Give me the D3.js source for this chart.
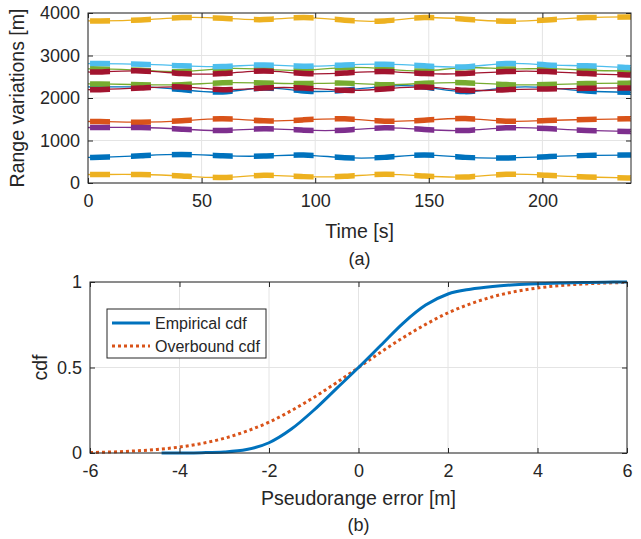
<!DOCTYPE html>
<html>
<head>
<meta charset="utf-8">
<script src="https://cdn.jsdelivr.net/npm/d3@7"></script>
<style>
body { margin: 0; background: #fff; }
svg text { font-family: "Liberation Sans", Arial, sans-serif; fill: #262626; }
</style>
</head>
<body>
<svg id="fig" width="641" height="539"></svg>
<script>

/////// Data for (a): range variations of each satellite ///////

// sample instants [s] (centres of the thick pieces, plus both ends of the record)
var times = [0, 5.3, 23.3, 41.3, 59.3, 77.4, 94.9, 113, 130.5, 148, 166, 184, 202, 219.5, 237.4, 239];
// half length of a thick piece [s]
var pieceHalf = 4.4;

var yellowTop = [3814, 3814, 3837, 3892, 3877, 3845, 3892, 3830, 3814, 3892, 3853, 3806, 3837, 3892, 3908, 3908];
var lightBlue = [2811, 2811, 2795, 2756, 2740, 2779, 2748, 2779, 2795, 2756, 2732, 2811, 2779, 2756, 2716, 2716];
var greenUp   = [2685, 2685, 2653, 2622, 2693, 2677, 2653, 2716, 2685, 2638, 2716, 2685, 2693, 2653, 2638, 2638];
var redUp     = [2614, 2614, 2638, 2575, 2575, 2638, 2575, 2590, 2622, 2575, 2575, 2622, 2622, 2575, 2543, 2543];
var greenLow  = [2330, 2330, 2313, 2313, 2360, 2353, 2340, 2350, 2313, 2345, 2360, 2315, 2315, 2340, 2350, 2350];
var blueMid   = [2260, 2260, 2260, 2197, 2142, 2236, 2165, 2181, 2275, 2260, 2150, 2244, 2244, 2165, 2134, 2134];
var redLow    = [2197, 2197, 2236, 2260, 2197, 2236, 2236, 2181, 2212, 2260, 2181, 2197, 2212, 2228, 2236, 2236];
var orangeS   = [1447, 1447, 1431, 1463, 1509, 1463, 1486, 1509, 1455, 1478, 1517, 1455, 1470, 1494, 1509, 1509];
var purpleS   = [1306, 1306, 1306, 1267, 1236, 1275, 1244, 1244, 1298, 1259, 1236, 1298, 1283, 1236, 1213, 1213];
var blueLow   = [603, 603, 642, 673, 642, 634, 658, 595, 603, 658, 603, 588, 619, 650, 658, 658];
var yellowLow = [200, 200, 200, 165, 130, 181, 150, 158, 205, 165, 142, 205, 181, 142, 119, 119];

var timeTicks = [0, 50, 100, 150, 200];
var rangeTicks = [0, 1000, 2000, 3000, 4000];

/////// Data for (b): cdf of the pseudorange error ///////

var empX = [-4.4, -4, -3.5, -3, -2.5, -2, -1.5, -1, -0.5, 0, 0.5, 1, 1.5, 2, 2.5, 3, 3.5, 4, 4.5, 5, 5.5, 6];
var empY = [0, 0.0005, 0.002, 0.006, 0.02, 0.06, 0.14, 0.25, 0.375, 0.5, 0.63, 0.76, 0.865, 0.93, 0.958, 0.974, 0.984, 0.99, 0.994, 0.997, 0.999, 1];

var ovbX = [-6, -5.5, -5, -4.5, -4, -3.5, -3, -2.5, -2, -1.5, -1, -0.5, 0, 0.5, 1, 1.5, 2, 2.5, 3, 3.5, 4, 4.5, 5, 5.5, 6];
var ovbY = [0.003, 0.006, 0.012, 0.021, 0.035, 0.056, 0.086, 0.128, 0.18, 0.248, 0.325, 0.41, 0.5, 0.59, 0.675, 0.752, 0.82, 0.872, 0.914, 0.944, 0.965, 0.979, 0.988, 0.994, 0.997];

var errTicks = [-6, -4, -2, 0, 2, 4, 6];
var cdfTicks = [0, 0.5, 1];

var axisColor = "#262626",
    gridColor = "#e4e4e4";

var svg = d3.select("#fig");
svg.append("rect").attr("width", 641).attr("height", 539).attr("fill", "#fff");

/////// Helpers: grid and box with inward ticks ///////

// plain hyphen for negative numbers, as in the original figure
function plainNum(d) { return String(d); }

function drawGrid(g, x, y, w, h, xt, yt) {
    g.append("g").selectAll("line").data(xt).enter().append("line")
        .attr("x1", function(d) { return x(d); }).attr("x2", function(d) { return x(d); })
        .attr("y1", 0).attr("y2", h)
        .attr("stroke", gridColor).attr("stroke-width", 1);
    g.append("g").selectAll("line").data(yt).enter().append("line")
        .attr("y1", function(d) { return y(d); }).attr("y2", function(d) { return y(d); })
        .attr("x1", 0).attr("x2", w)
        .attr("stroke", gridColor).attr("stroke-width", 1);
}

function drawAxes(g, x, y, w, h, xt, yt) {
    var bottom = g.append("g").attr("transform", "translate(0," + h + ")")
        .call(d3.axisBottom(x).tickValues(xt).tickSize(-5).tickPadding(11).tickFormat(plainNum));
    var top = g.append("g")
        .call(d3.axisTop(x).tickValues(xt).tickSize(-5).tickFormat(""));
    var left = g.append("g")
        .call(d3.axisLeft(y).tickValues(yt).tickSize(-5).tickPadding(8).tickFormat(plainNum));
    var right = g.append("g").attr("transform", "translate(" + w + ",0)")
        .call(d3.axisRight(y).tickValues(yt).tickSize(-5).tickFormat(""));
    [bottom, top, left, right].forEach(function(a) {
        a.select(".domain").remove();
        a.selectAll("line").attr("stroke", axisColor);
        a.selectAll("text").attr("font-size", "18px").style("fill", axisColor)
            .attr("font-family", "Liberation Sans, Arial, sans-serif");
    });
    g.append("rect").attr("width", w).attr("height", h)
        .attr("fill", "none").attr("stroke", axisColor).attr("stroke-width", 1);
}

/////// (a) Range variations ///////

var ma = {left: 88, top: 13},
    wa = 543, ha = 170;
var ga = svg.append("g").attr("transform", "translate(" + ma.left + "," + ma.top + ")");

var xa = d3.scaleLinear().domain([0, 239]).range([0, wa]),
    ya = d3.scaleLinear().domain([0, 4000]).range([ha, 0]);

drawGrid(ga, xa, ya, wa, ha, timeTicks, rangeTicks);

var defs = svg.append("defs");
defs.append("clipPath").attr("id", "clipA")
    .append("rect").attr("width", wa).attr("height", ha);

// thick pieces are the same curve shown only around each sample instant
var pieceTimes = times.slice(1, times.length - 1);
defs.append("clipPath").attr("id", "pieces")
    .selectAll("rect").data(pieceTimes).enter().append("rect")
    .attr("x", function(t) { return Math.max(0, xa(t - pieceHalf)); })
    .attr("width", function(t) { return Math.min(wa, xa(t + pieceHalf)) - Math.max(0, xa(t - pieceHalf)); })
    .attr("y", 0).attr("height", ha);

var rangeSeries = [
    {vals: blueLow,   color: "#0072BD"},
    {vals: orangeS,   color: "#D95319"},
    {vals: yellowTop, color: "#EDB120"},
    {vals: purpleS,   color: "#7E2F8E"},
    {vals: greenUp,   color: "#77AC30"},
    {vals: lightBlue, color: "#4DBEEE"},
    {vals: redUp,     color: "#A2142F"},
    {vals: blueMid,   color: "#0072BD"},
    {vals: yellowLow, color: "#EDB120"},
    {vals: greenLow,  color: "#77AC30"},
    {vals: redLow,    color: "#A2142F"}
];

var rangeLine = d3.line()
    .curve(d3.curveNatural)
    .x(function(d) { return xa(d[0]); })
    .y(function(d) { return ya(d[1]); });

var plotA = ga.append("g").attr("clip-path", "url(#clipA)");

rangeSeries.forEach(function(s) {
    var pts = d3.zip(times, s.vals);
    plotA.append("path").datum(pts)
        .attr("d", rangeLine)
        .attr("fill", "none").attr("stroke", s.color).attr("stroke-width", 1.3);
    plotA.append("g").attr("clip-path", "url(#pieces)")
        .append("path").datum(pts)
        .attr("d", rangeLine)
        .attr("fill", "none").attr("stroke", s.color).attr("stroke-width", 5.5);
});

drawAxes(ga, xa, ya, wa, ha, timeTicks, rangeTicks);

ga.append("text")
    .attr("x", wa / 2).attr("y", ha + 55)
    .attr("text-anchor", "middle").attr("font-size", "19.5px")
    .text("Time [s]");
ga.append("text")
    .attr("x", wa / 2).attr("y", ha + 82)
    .attr("text-anchor", "middle").attr("font-size", "18px")
    .text("(a)");
ga.append("text")
    .attr("transform", "translate(" + (-64) + "," + (ha / 2) + ") rotate(-90)")
    .attr("text-anchor", "middle").attr("font-size", "19.5px")
    .text("Range variations [m]");

/////// (b) cdf ///////

var mb = {left: 90, top: 282},
    wb = 537, hb = 171;
var gb = svg.append("g").attr("transform", "translate(" + mb.left + "," + mb.top + ")");

var xb = d3.scaleLinear().domain([-6, 6]).range([0, wb]),
    yb = d3.scaleLinear().domain([0, 1]).range([hb, 0]);

drawGrid(gb, xb, yb, wb, hb, errTicks, cdfTicks);

var cdfLine = d3.line()
    .curve(d3.curveMonotoneX)
    .x(function(d) { return xb(d[0]); })
    .y(function(d) { return yb(d[1]); });

gb.append("path").datum(d3.zip(ovbX, ovbY))
    .attr("d", cdfLine)
    .attr("fill", "none").attr("stroke", "#D95319").attr("stroke-width", 3)
    .attr("stroke-dasharray", "3,3");

gb.append("path").datum(d3.zip(empX, empY))
    .attr("d", cdfLine)
    .attr("fill", "none").attr("stroke", "#0072BD").attr("stroke-width", 3);

drawAxes(gb, xb, yb, wb, hb, errTicks, cdfTicks);

gb.append("text")
    .attr("x", wb / 2).attr("y", hb + 52)
    .attr("text-anchor", "middle").attr("font-size", "19.5px")
    .text("Pseudorange error [m]");
gb.append("text")
    .attr("x", wb / 2).attr("y", hb + 78)
    .attr("text-anchor", "middle").attr("font-size", "18px")
    .text("(b)");
gb.append("text")
    .attr("transform", "translate(" + (-43) + "," + (hb / 2) + ") rotate(-90)")
    .attr("text-anchor", "middle").attr("font-size", "19.5px")
    .text("cdf");

// legend
var legendItems = [
    {label: "Empirical cdf", color: "#0072BD", dash: null},
    {label: "Overbound cdf", color: "#D95319", dash: "3,3"}
];
var leg = gb.append("g").attr("transform", "translate(17,27)");
leg.append("rect").attr("width", 159).attr("height", 49)
    .attr("fill", "#fff").attr("stroke", axisColor).attr("stroke-width", 1);
var entry = leg.selectAll("g.entry").data(legendItems).enter().append("g")
    .attr("class", "entry")
    .attr("transform", function(d, i) { return "translate(0," + (14 + i * 23) + ")"; });
entry.append("line")
    .attr("x1", 5).attr("x2", 43).attr("y1", 0).attr("y2", 0)
    .attr("stroke", function(d) { return d.color; }).attr("stroke-width", 3)
    .attr("stroke-dasharray", function(d) { return d.dash; });
entry.append("text")
    .attr("x", 48).attr("y", 0).attr("dy", "0.35em")
    .attr("font-size", "16px")
    .text(function(d) { return d.label; });

</script>
</body>
</html>
